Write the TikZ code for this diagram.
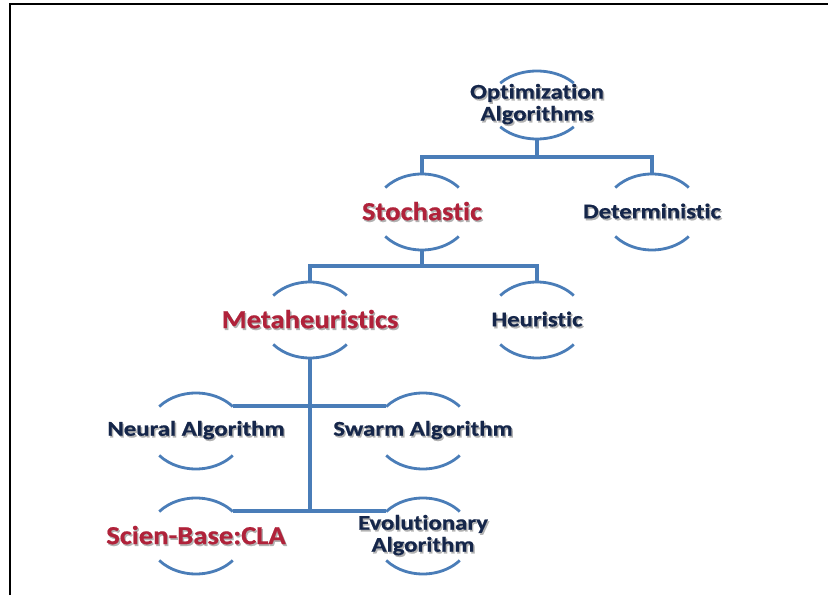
\documentclass[tikz,border=0pt]{standalone}
\usepackage{fontspec}
\setmainfont[Ligatures=NoCommon,BoldFeatures={FakeBold=0.6}]{Carlito}
\usepackage{graphicx}
\definecolor{lineblue}{HTML}{4A7DB8}
\definecolor{navytext}{HTML}{15264A}
\definecolor{redtext}{HTML}{B0223A}
\newcommand\shd[1]{\leavevmode\rlap{\kern1.2pt\raisebox{-1.8pt}{\textcolor{black!30}{#1}}}#1}
\newcommand\nv[1]{\scalebox{1.18}[1]{\shd{#1}}}
\newcommand\rd[1]{\scalebox{1.1}[1]{\shd{#1}}}
% arcs above and below a concept node: #1 node name, #2 vertical radius
\newcommand\ovalarcs[2]{%
  \draw[arcline] (#1.center) ++(140:48pt and #2pt) arc[start angle=140,end angle=40,x radius=48pt,y radius=#2pt];
  \draw[arcline] (#1.center) ++(220:48pt and #2pt) arc[start angle=220,end angle=320,x radius=48pt,y radius=#2pt];
}
\begin{document}
\begin{tikzpicture}[x=1pt,y=1pt,
  link/.style={draw=lineblue,line width=3.2pt},
  arcline/.style={draw=lineblue,line width=2.8pt},
  frame/.style={draw=black,line width=2pt},
  navy/.style={text=navytext,font=\fontsize{21}{22}\selectfont\bfseries,align=center,inner sep=0pt},
  crimson/.style={text=redtext,font=\fontsize{26}{28}\selectfont\bfseries,align=center,inner sep=0pt}]
\useasboundingbox (0,0) rectangle (828,595);
\fill[white] (0,0) rectangle (828,595);
% frame (cropped)
\coordinate (fbl) at (10,0);
\coordinate (ftl) at (10,591);
\coordinate (ftr) at (828,591);
\draw[frame] (fbl) -- (ftl) -- (ftr);

% concept nodes
\node[navy] (opt) at (537,490) {\nv{Optimization}\\\nv{Algorithms}};
\node[crimson] (sto) at (422,383) {\rd{Stochastic}};
\node[navy] (det) at (652,383) {\nv{Deterministic}};
\node[crimson] (meta) at (310,275) {\rd{Metaheuristics}};
\node[navy] (heu) at (537,275) {\nv{Heuristic}};
\node[navy] (neu) at (196,164) {\nv{Neural Algorithm}};
\node[navy] (swa) at (423,164) {\nv{Swarm Algorithm}};
\node[crimson] (sci) at (196,59) {\rd{Scien-Base:CLA}};
\node[navy] (evo) at (423,59) {\nv{Evolutionary}\\\nv{Algorithm}};

% arcs
\ovalarcs{opt}{34}
\ovalarcs{sto}{38}
\ovalarcs{det}{38}
\ovalarcs{meta}{38}
\ovalarcs{heu}{38}
\ovalarcs{neu}{38}
\ovalarcs{swa}{38}
\ovalarcs{sci}{38}
\ovalarcs{evo}{38}

% connectors level 1
\draw[link] ([yshift=-34pt]opt.center) -- ++(0,-18pt) coordinate (b1);
\draw[link] ([yshift=38pt]sto.center) |- (b1) -| ([yshift=38pt]det.center);
% level 2
\draw[link] ([yshift=-38pt]sto.center) -- ++(0,-16pt) coordinate (b2);
\draw[link] ([yshift=38pt]meta.center) |- (b2) -| ([yshift=38pt]heu.center);
% level 3 and 4
\coordinate (neu-tr) at ([shift={(37pt,25pt)}]neu.center);
\coordinate (swa-tl) at ([shift={(-37pt,25pt)}]swa.center);
\coordinate (sci-tr) at ([shift={(37pt,25pt)}]sci.center);
\coordinate (evo-tl) at ([shift={(-37pt,25pt)}]evo.center);
\draw[link] ([yshift=-38pt]meta.center) -- (meta.center |- sci-tr);
\draw[link] (neu-tr) -- (swa-tl);
\draw[link] (sci-tr) -- (evo-tl);
\end{tikzpicture}
\end{document}
